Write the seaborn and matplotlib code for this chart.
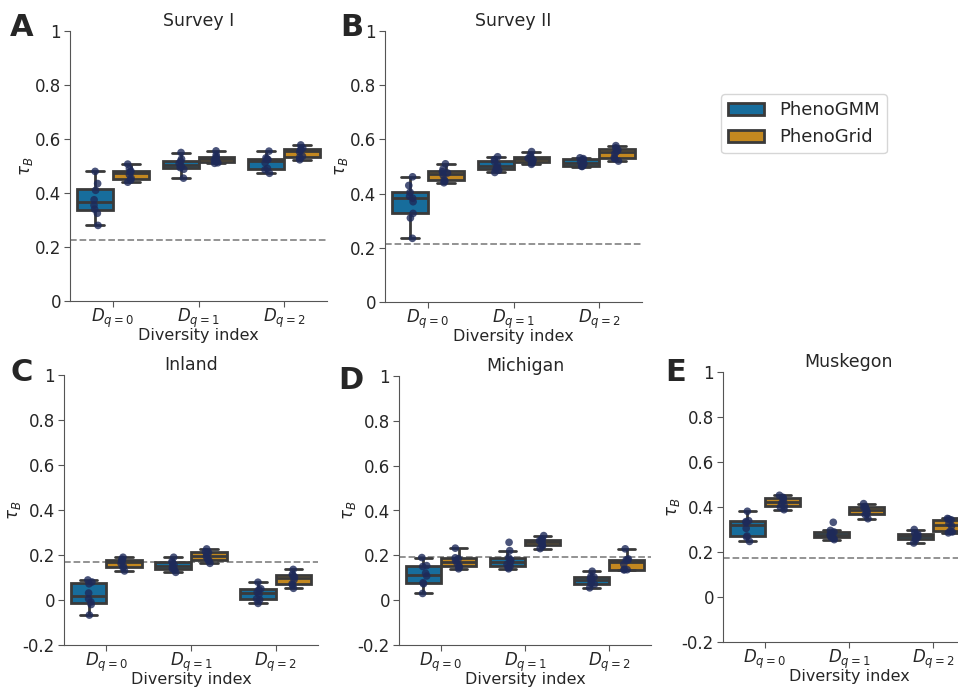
import numpy as np
import pandas as pd
import matplotlib as mpl
import matplotlib.pyplot as plt
import seaborn as sns

mpl.rcParams['axes.unicode_minus'] = False

# categories / labels
index_names = ["D0", "D1", "D2"]
index_labels = [r"$D_{q=0}$", r"$D_{q=1}$", r"$D_{q=2}$"]
methods = ["PhenoGMM", "PhenoGrid"]
titles = ["Survey I", "Survey II", "Inland", "Michigan", "Muskegon"]
letters = ["A", "B", "C", "D", "E"]
baselines = [0.227, 0.213, 0.170, 0.193, 0.173]

# tau_B values per diversity index (D0, D1, D2)
survey1_gmm = [[0.280, 0.325, 0.340, 0.355, 0.375, 0.410, 0.435, 0.480],
               [0.455, 0.488, 0.494, 0.500, 0.510, 0.518, 0.526, 0.550],
               [0.473, 0.486, 0.491, 0.512, 0.524, 0.526, 0.530, 0.555]]
survey1_grid = [[0.440, 0.448, 0.455, 0.468, 0.478, 0.481, 0.490, 0.507],
                [0.510, 0.512, 0.516, 0.522, 0.528, 0.533, 0.541, 0.556],
                [0.523, 0.532, 0.536, 0.552, 0.558, 0.562, 0.566, 0.578]]

survey2_gmm = [[0.235, 0.310, 0.327, 0.370, 0.383, 0.390, 0.405, 0.430, 0.462],
               [0.478, 0.486, 0.490, 0.498, 0.506, 0.518, 0.526, 0.536],
               [0.500, 0.501, 0.504, 0.511, 0.517, 0.525, 0.529, 0.532]]
survey2_grid = [[0.440, 0.446, 0.451, 0.468, 0.476, 0.481, 0.491, 0.510],
                [0.508, 0.513, 0.517, 0.524, 0.530, 0.534, 0.542, 0.555],
                [0.520, 0.529, 0.533, 0.548, 0.556, 0.561, 0.569, 0.577]]

inland_gmm = [[-0.067, -0.020, -0.009, 0.005, 0.031, 0.072, 0.080, 0.089],
              [0.123, 0.135, 0.139, 0.149, 0.157, 0.167, 0.171, 0.190],
              [-0.015, 0.001, 0.005, 0.025, 0.035, 0.046, 0.050, 0.079]]
inland_grid = [[0.129, 0.145, 0.149, 0.162, 0.172, 0.177, 0.181, 0.190],
               [0.163, 0.175, 0.179, 0.192, 0.202, 0.211, 0.215, 0.227],
               [0.052, 0.067, 0.071, 0.090, 0.102, 0.110, 0.114, 0.136]]

michigan_gmm = [[0.030, 0.073, 0.078, 0.108, 0.120, 0.150, 0.154, 0.190],
                [0.140, 0.146, 0.151, 0.160, 0.171, 0.180, 0.189, 0.221, 0.258],
                [0.055, 0.071, 0.075, 0.088, 0.096, 0.103, 0.107, 0.129]]
michigan_grid = [[0.140, 0.148, 0.152, 0.165, 0.177, 0.185, 0.189, 0.232],
                 [0.230, 0.242, 0.246, 0.255, 0.265, 0.269, 0.273, 0.288],
                 [0.135, 0.136, 0.137, 0.160, 0.178, 0.180, 0.184, 0.229]]

muskegon_gmm = [[0.247, 0.266, 0.271, 0.305, 0.331, 0.335, 0.339, 0.381],
                [0.255, 0.261, 0.265, 0.272, 0.277, 0.283, 0.289, 0.296, 0.332],
                [0.240, 0.255, 0.259, 0.266, 0.274, 0.279, 0.283, 0.300]]
muskegon_grid = [[0.388, 0.400, 0.404, 0.418, 0.426, 0.439, 0.443, 0.452],
                 [0.348, 0.366, 0.370, 0.380, 0.390, 0.398, 0.402, 0.415],
                 [0.285, 0.289, 0.293, 0.316, 0.328, 0.343, 0.347, 0.349]]

panels = [(survey1_gmm, survey1_grid), (survey2_gmm, survey2_grid),
          (inland_gmm, inland_grid), (michigan_gmm, michigan_grid),
          (muskegon_gmm, muskegon_grid)]


def to_frame(gmm, grid):
    rows = []
    for name, groups in zip(methods, [gmm, grid]):
        for idx, vals in zip(index_names, groups):
            for v in vals:
                rows.append({"index": idx, "method": name, "tau": v})
    return pd.DataFrame(rows)


sns.set_style("ticks")
mpl.rcParams['font.family'] = ['DejaVu Sans']

W, H = 958, 688
fig = plt.figure(figsize=(W / 100, H / 100), dpi=100)

# axes boxes in pixels: left, right, top, bottom
boxes = [(70, 327, 31, 301), (385, 642, 31, 302),
         (64, 318, 375, 645), (399, 651, 376, 645),
         (723, 975, 372, 642)]
letter_pos = [(10, 13), (340, 13), (10, 358), (338, 366), (665, 358)]

handles, labels = None, None
for i, ((gmm, grid), (l, r, t, b)) in enumerate(zip(panels, boxes)):
    ax = fig.add_axes([l / W, 1 - b / H, (r - l) / W, (b - t) / H])
    df = to_frame(gmm, grid)
    ax.axhline(baselines[i], color="#8a8a8a", ls="--", lw=1.3, zorder=0.5)
    sns.boxplot(data=df, x="index", y="tau", hue="method", order=index_names,
                hue_order=methods, palette="colorblind", showfliers=False,
                linewidth=2.0, linecolor="#3a3a3a", width=0.84, ax=ax)
    sns.stripplot(data=df, x="index", y="tau", hue="method", order=index_names,
                  hue_order=methods, palette=["#1e2a5a", "#1e2a5a"], dodge=True,
                  jitter=0.06, size=5.5, alpha=0.8, legend=False, ax=ax)
    if handles is None:
        handles, labels = ax.get_legend_handles_labels()
    if ax.get_legend() is not None:
        ax.get_legend().remove()

    ax.set_xlim(-0.5, 2.5)
    if i < 2:
        ax.set_ylim(0, 1)
        ax.set_yticks([0, 0.2, 0.4, 0.6, 0.8, 1])
        ax.set_yticklabels(["0", "0.2", "0.4", "0.6", "0.8", "1"])
    else:
        ax.set_ylim(-0.2, 1)
        ax.set_yticks([-0.2, 0, 0.2, 0.4, 0.6, 0.8, 1])
        ax.set_yticklabels(["-0.2", "0", "0.2", "0.4", "0.6", "0.8", "1"])
    ax.set_xticks([0, 1, 2])
    ax.set_xticklabels(index_labels, fontsize=12)
    ax.tick_params(axis="y", labelsize=12, length=4, pad=2.5, color="#555555")
    ax.tick_params(axis="x", length=4, pad=0, color="#555555")
    ax.set_xlabel("Diversity index", fontsize=11.5, labelpad=-1)
    ax.set_ylabel(r"$\tau_B$", fontsize=12, labelpad=0)
    ax.set_title(titles[i], fontsize=12.5, pad=3.5)
    for s in ax.spines.values():
        s.set_color("#555555")
    sns.despine(ax=ax)

    lx, ly = letter_pos[i]
    fig.text(lx / W, 1 - ly / H, letters[i], fontsize=22, fontweight="bold", va="top")

fig.legend(handles, labels, loc="upper left", bbox_to_anchor=(721 / W, 1 - 94 / H),
           borderaxespad=0, fontsize=13)

fig.savefig("out.png", dpi=100)
